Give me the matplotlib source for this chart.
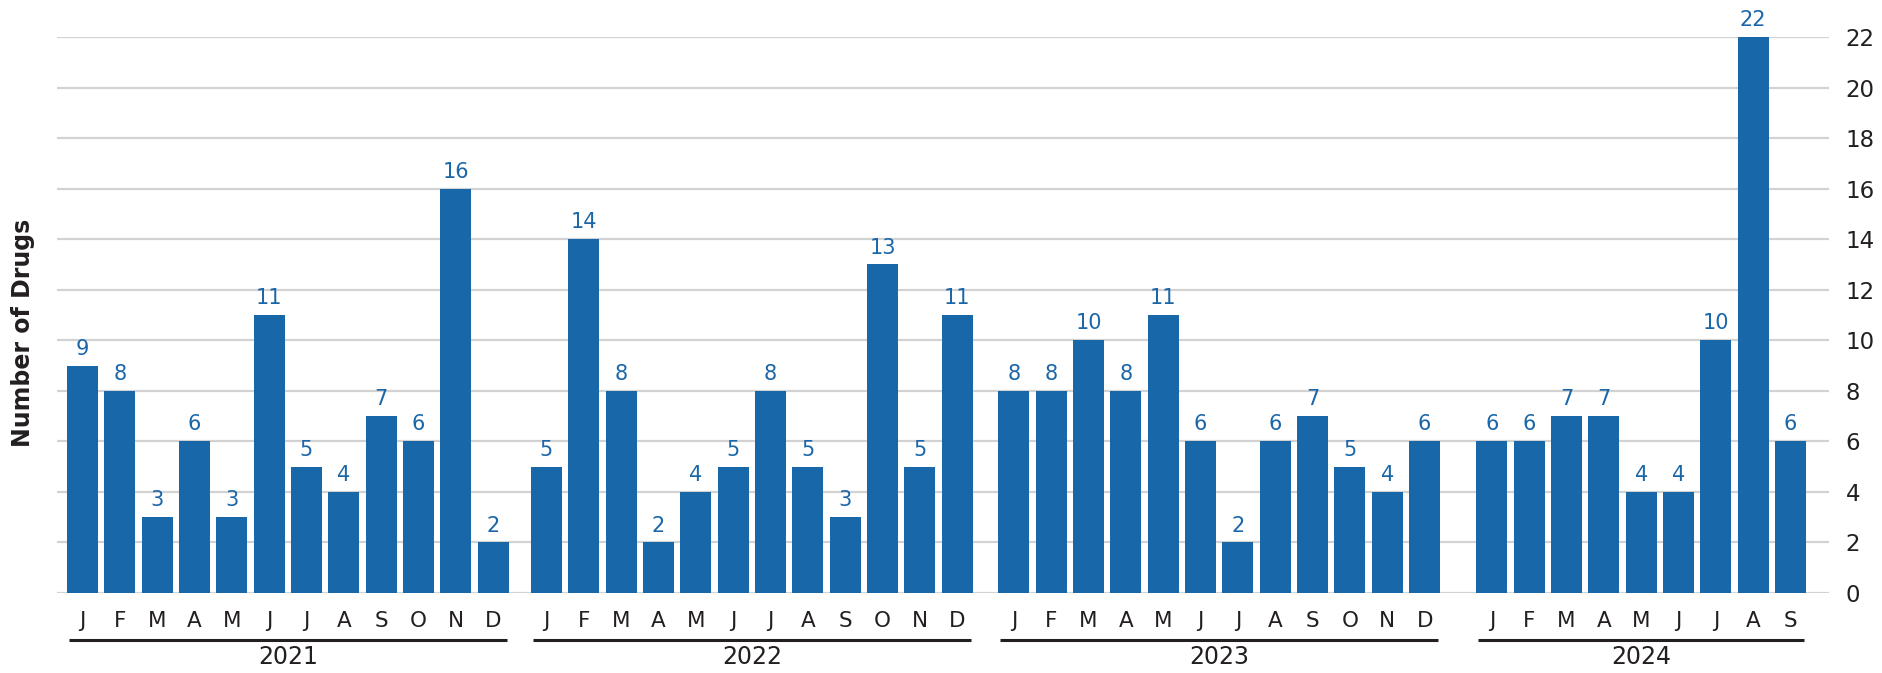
import numpy as np
import matplotlib
matplotlib.use('Agg')
import matplotlib.pyplot as plt
import matplotlib.transforms as mtransforms

# monthly counts per year
years = ['2021', '2022', '2023', '2024']
months = ['J', 'F', 'M', 'A', 'M', 'J', 'J', 'A', 'S', 'O', 'N', 'D']
counts_2021 = [9, 8, 3, 6, 3, 11, 5, 4, 7, 6, 16, 2]
counts_2022 = [5, 14, 8, 2, 4, 5, 8, 5, 3, 13, 5, 11]
counts_2023 = [8, 8, 10, 8, 11, 6, 2, 6, 7, 5, 4, 6]
counts_2024 = [6, 6, 7, 7, 4, 4, 10, 22, 6]
all_counts = [counts_2021, counts_2022, counts_2023, counts_2024]

# where each year's group starts along the x axis (in bar slots)
group_start = [0, 12.43, 24.95, 37.75]

bar_color = '#1767a9'
label_color = '#1a66a8'
text_color = '#231f20'
grid_color = '#d2d2d2'

plt.rcParams['font.family'] = ['DejaVu Sans']

fig = plt.figure(figsize=(18.83, 6.73), dpi=100)
W, H = 1883, 673
ax = fig.add_axes([57 / W, 1 - 593 / H, (1829 - 57) / W, (593 - 37) / H])

xs_all, labs_all = [], []
for start, vals in zip(group_start, all_counts):
    xs = start + np.arange(len(vals))
    ax.bar(xs, vals, width=0.83, color=bar_color, zorder=3)
    for x, v in zip(xs, vals):
        ax.annotate(str(v), (x, v), xytext=(0, 5), textcoords='offset points',
                    ha='center', va='bottom', fontsize=15, color=label_color,
                    annotation_clip=False)
    xs_all.extend(xs)
    labs_all.extend(months[:len(vals)])

ax.set_xlim(-0.68, 46.78)
ax.set_ylim(0, 22)
ax.set_yticks(range(0, 23, 2))
ax.yaxis.tick_right()
ax.tick_params(axis='y', length=0, pad=12, labelsize=16.5, labelcolor=text_color)
ax.set_xticks(xs_all)
ax.set_xticklabels(labs_all)
ax.tick_params(axis='x', length=0, pad=13, labelsize=15.5, labelcolor=text_color)

ax.grid(axis='y', color=grid_color, linewidth=1.6, zorder=0)
ax.set_axisbelow(True)
for s in ax.spines.values():
    s.set_visible(False)

# year underlines and labels
trans = mtransforms.blended_transform_factory(ax.transData, ax.transAxes)
for start, vals, yr in zip(group_start, all_counts, years):
    x0 = start - 0.36
    x1 = start + len(vals) - 1 + 0.36
    ax.plot([x0, x1], [-0.084, -0.084], color=text_color, linewidth=2.2,
            transform=trans, clip_on=False, solid_capstyle='butt')
    ax.text((x0 + x1) / 2, -0.116, yr, transform=trans, ha='center', va='center',
            fontsize=17, color=text_color)

fig.text(23 / W, 1 - 333 / H, 'Number of Drugs', rotation=90, ha='center', va='center',
         fontsize=17, fontweight='bold', color=text_color)

fig.savefig('out.png', dpi=100, facecolor='white')
